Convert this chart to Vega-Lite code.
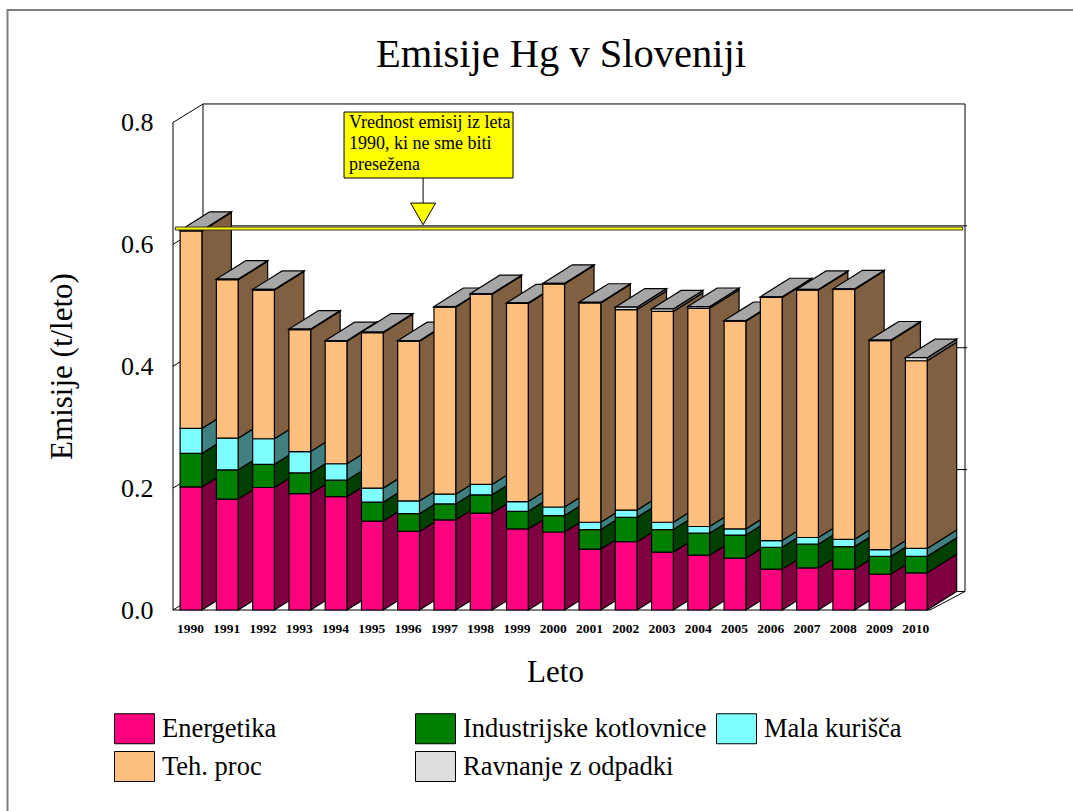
{
"$schema":"https://vega.github.io/schema/vega-lite/v6.json",
"width":1100,"height":830,
"autosize":{"type":"none"},
"padding":{"left":7.5,"top":10,"right":0,"bottom":0},
"background":"white",
"config":{"view":{"stroke":"#808080","strokeWidth":2,"fill":"white"},"font":"Liberation Serif"},
"title":{"text":"Emisije Hg v Sloveniji","font":"Liberation Serif","fontSize":40.5,"fontWeight":"normal","color":"black","anchor":"middle","frame":"group","baseline":"middle","offset":-85,"dx":3.5},
"datasets":{
"emissions":[
{"year":1990,"series":"Energetika","value":0.202},{"year":1990,"series":"Industrijske kotlovnice","value":0.055},{"year":1990,"series":"Mala kurišča","value":0.041},{"year":1990,"series":"Teh. proc","value":0.324},{"year":1990,"series":"Ravnanje z odpadki","value":0.001},
{"year":1991,"series":"Energetika","value":0.182},{"year":1991,"series":"Industrijske kotlovnice","value":0.048},{"year":1991,"series":"Mala kurišča","value":0.052},{"year":1991,"series":"Teh. proc","value":0.260},{"year":1991,"series":"Ravnanje z odpadki","value":0.001},
{"year":1992,"series":"Energetika","value":0.201},{"year":1992,"series":"Industrijske kotlovnice","value":0.038},{"year":1992,"series":"Mala kurišča","value":0.042},{"year":1992,"series":"Teh. proc","value":0.244},{"year":1992,"series":"Ravnanje z odpadki","value":0.001},
{"year":1993,"series":"Energetika","value":0.191},{"year":1993,"series":"Industrijske kotlovnice","value":0.034},{"year":1993,"series":"Mala kurišča","value":0.035},{"year":1993,"series":"Teh. proc","value":0.200},{"year":1993,"series":"Ravnanje z odpadki","value":0.001},
{"year":1994,"series":"Energetika","value":0.186},{"year":1994,"series":"Industrijske kotlovnice","value":0.027},{"year":1994,"series":"Mala kurišča","value":0.027},{"year":1994,"series":"Teh. proc","value":0.201},{"year":1994,"series":"Ravnanje z odpadki","value":0.001},
{"year":1995,"series":"Energetika","value":0.146},{"year":1995,"series":"Industrijske kotlovnice","value":0.031},{"year":1995,"series":"Mala kurišča","value":0.023},{"year":1995,"series":"Teh. proc","value":0.255},{"year":1995,"series":"Ravnanje z odpadki","value":0.001},
{"year":1996,"series":"Energetika","value":0.129},{"year":1996,"series":"Industrijske kotlovnice","value":0.029},{"year":1996,"series":"Mala kurišča","value":0.021},{"year":1996,"series":"Teh. proc","value":0.262},{"year":1996,"series":"Ravnanje z odpadki","value":0.001},
{"year":1997,"series":"Energetika","value":0.148},{"year":1997,"series":"Industrijske kotlovnice","value":0.026},{"year":1997,"series":"Mala kurišča","value":0.016},{"year":1997,"series":"Teh. proc","value":0.307},{"year":1997,"series":"Ravnanje z odpadki","value":0.001},
{"year":1998,"series":"Energetika","value":0.159},{"year":1998,"series":"Industrijske kotlovnice","value":0.030},{"year":1998,"series":"Mala kurišča","value":0.017},{"year":1998,"series":"Teh. proc","value":0.312},{"year":1998,"series":"Ravnanje z odpadki","value":0.001},
{"year":1999,"series":"Energetika","value":0.133},{"year":1999,"series":"Industrijske kotlovnice","value":0.029},{"year":1999,"series":"Mala kurišča","value":0.016},{"year":1999,"series":"Teh. proc","value":0.325},{"year":1999,"series":"Ravnanje z odpadki","value":0.001},
{"year":2000,"series":"Energetika","value":0.128},{"year":2000,"series":"Industrijske kotlovnice","value":0.027},{"year":2000,"series":"Mala kurišča","value":0.014},{"year":2000,"series":"Teh. proc","value":0.366},{"year":2000,"series":"Ravnanje z odpadki","value":0.001},
{"year":2001,"series":"Energetika","value":0.100},{"year":2001,"series":"Industrijske kotlovnice","value":0.032},{"year":2001,"series":"Mala kurišča","value":0.012},{"year":2001,"series":"Teh. proc","value":0.360},{"year":2001,"series":"Ravnanje z odpadki","value":0.001},
{"year":2002,"series":"Energetika","value":0.112},{"year":2002,"series":"Industrijske kotlovnice","value":0.040},{"year":2002,"series":"Mala kurišča","value":0.012},{"year":2002,"series":"Teh. proc","value":0.329},{"year":2002,"series":"Ravnanje z odpadki","value":0.004},
{"year":2003,"series":"Energetika","value":0.095},{"year":2003,"series":"Industrijske kotlovnice","value":0.037},{"year":2003,"series":"Mala kurišča","value":0.012},{"year":2003,"series":"Teh. proc","value":0.346},{"year":2003,"series":"Ravnanje z odpadki","value":0.004},
{"year":2004,"series":"Energetika","value":0.090},{"year":2004,"series":"Industrijske kotlovnice","value":0.036},{"year":2004,"series":"Mala kurišča","value":0.011},{"year":2004,"series":"Teh. proc","value":0.358},{"year":2004,"series":"Ravnanje z odpadki","value":0.003},
{"year":2005,"series":"Energetika","value":0.085},{"year":2005,"series":"Industrijske kotlovnice","value":0.038},{"year":2005,"series":"Mala kurišča","value":0.010},{"year":2005,"series":"Teh. proc","value":0.341},{"year":2005,"series":"Ravnanje z odpadki","value":0.001},
{"year":2006,"series":"Energetika","value":0.067},{"year":2006,"series":"Industrijske kotlovnice","value":0.036},{"year":2006,"series":"Mala kurišča","value":0.011},{"year":2006,"series":"Teh. proc","value":0.399},{"year":2006,"series":"Ravnanje z odpadki","value":0.001},
{"year":2007,"series":"Energetika","value":0.069},{"year":2007,"series":"Industrijske kotlovnice","value":0.039},{"year":2007,"series":"Mala kurišča","value":0.011},{"year":2007,"series":"Teh. proc","value":0.406},{"year":2007,"series":"Ravnanje z odpadki","value":0.001},
{"year":2008,"series":"Energetika","value":0.067},{"year":2008,"series":"Industrijske kotlovnice","value":0.037},{"year":2008,"series":"Mala kurišča","value":0.012},{"year":2008,"series":"Teh. proc","value":0.410},{"year":2008,"series":"Ravnanje z odpadki","value":0.001},
{"year":2009,"series":"Energetika","value":0.059},{"year":2009,"series":"Industrijske kotlovnice","value":0.029},{"year":2009,"series":"Mala kurišča","value":0.011},{"year":2009,"series":"Teh. proc","value":0.343},{"year":2009,"series":"Ravnanje z odpadki","value":0.001},
{"year":2010,"series":"Energetika","value":0.061},{"year":2010,"series":"Industrijske kotlovnice","value":0.027},{"year":2010,"series":"Mala kurišča","value":0.013},{"year":2010,"series":"Teh. proc","value":0.308},{"year":2010,"series":"Ravnanje z odpadki","value":0.005}
],
"frame3d":[
{"id":"A","o":1,"x":1989.504,"y":0},{"id":"A","o":2,"x":1989.504,"y":0.8},{"id":"A","o":3,"x":1990.331,"y":0.8304},{"id":"A","o":4,"x":2011.343,"y":0.8304},{"id":"A","o":5,"x":2011.343,"y":0.0304},{"id":"A","o":6,"x":2010.378,"y":0},{"id":"A","o":7,"x":1989.504,"y":0},
{"id":"B","o":1,"x":1990.331,"y":0.8304},{"id":"B","o":2,"x":1990.331,"y":0.0304},{"id":"B","o":3,"x":1989.504,"y":0},
{"id":"C","o":1,"x":1990.331,"y":0.0304},{"id":"C","o":2,"x":2011.343,"y":0.0304},
{"id":"G2","o":1,"x":1989.504,"y":0.2},{"id":"G2","o":2,"x":1990.331,"y":0.2304},{"id":"G2","o":3,"x":2011.4,"y":0.2304},
{"id":"G4","o":1,"x":1989.504,"y":0.4},{"id":"G4","o":2,"x":1990.331,"y":0.4304},{"id":"G4","o":3,"x":2011.4,"y":0.4304},
{"id":"G6","o":1,"x":1989.504,"y":0.6},{"id":"G6","o":2,"x":1990.331,"y":0.6304},{"id":"G6","o":3,"x":2011.4,"y":0.6304}
]
},
"layer":[
{"data":{"name":"frame3d"},
 "mark":{"type":"line","color":"black","strokeWidth":1,"clip":false},
 "encoding":{
  "x":{"field":"x","type":"quantitative","scale":{"domain":[1990,2010],"range":[183.5,908.8],"zero":false,"nice":false},
    "axis":{"values":[1990,1991,1992,1993,1994,1995,1996,1997,1998,1999,2000,2001,2002,2003,2004,2005,2006,2007,2008,2009,2010],"format":"d","orient":"bottom","offset":-230,"domain":false,"ticks":false,"grid":false,"labelFont":"Liberation Serif","labelFontSize":13.5,"labelFontWeight":"bold","labelColor":"black","labelPadding":11,"labelOffset":-1,"labelOverlap":false,"labelFlush":false,"title":"Leto","titleFont":"Liberation Serif","titleFontSize":31,"titleFontWeight":"normal","titleColor":"black","titleX":547.5,"titleY":62,"titleBaseline":"middle"}},
  "y":{"field":"y","type":"quantitative","scale":{"domain":[0,0.8],"range":[600,112.5],"zero":false,"nice":false},
    "axis":{"values":[0,0.2,0.4,0.6,0.8],"format":".1f","orient":"left","offset":-165.5,"domain":false,"ticks":false,"grid":false,"labelFont":"Liberation Serif","labelFontSize":26,"labelColor":"black","labelPadding":20,"title":"Emisije (t/leto)","titleFont":"Liberation Serif","titleFontSize":31,"titleFontWeight":"normal","titleColor":"black","titleX":-111,"titleY":356,"titleAngle":-90,"titleBaseline":"middle"}},
  "detail":{"field":"id"},
  "order":{"field":"o","type":"quantitative"}
 }},
{"data":{"name":"emissions"},
 "transform":[
  {"calculate":"indexof(['Energetika','Industrijske kotlovnice','Mala kurišča','Teh. proc','Ravnanje z odpadki'],datum.series)","as":"rank"},
  {"stack":"value","groupby":["year"],"sort":[{"field":"rank","order":"ascending"}],"as":["v0","v1"]},
  {"calculate":"[0,1]","as":"d"},{"flatten":["d"]},
  {"calculate":"datum.year+0.3+datum.d*0.813","as":"sx"},
  {"calculate":"datum.v0+datum.d*0.0304","as":"sy0"},
  {"calculate":"datum.v1+datum.d*0.0304","as":"sy1"}
 ],
 "mark":{"type":"area","stroke":"black","strokeWidth":1.2,"clip":false},
 "encoding":{
  "x":{"field":"sx","type":"quantitative"},
  "y":{"field":"sy0","type":"quantitative","stack":null},
  "y2":{"field":"sy1"},
  "fill":{"field":"series","type":"nominal","legend":null,"scale":{"domain":["Ravnanje z odpadki","Teh. proc","Mala kurišča","Industrijske kotlovnice","Energetika"],"range":["#6F6F6F","#806040","#408080","#004000","#7F0040"]}},
  "detail":{"field":"year"}
 }},
{"data":{"name":"emissions"},
 "transform":[
  {"joinaggregate":[{"op":"sum","field":"value","as":"total"}],"groupby":["year"]},
  {"filter":"datum.series==='Ravnanje z odpadki'"},
  {"calculate":"[0,1,2,3]","as":"t"},{"flatten":["t"]},
  {"calculate":"datum.year-0.3+[0,0.6,0.813,1.413][datum.t]","as":"tx"},
  {"calculate":"datum.total+0.0304*[0,0,0.262,1][datum.t]","as":"ty0"},
  {"calculate":"datum.total+0.0304*[0,0.738,1,1][datum.t]","as":"ty1"}
 ],
 "mark":{"type":"area","fill":"#A6A6A6","stroke":"black","strokeWidth":1.2,"clip":false},
 "encoding":{
  "x":{"field":"tx","type":"quantitative"},
  "y":{"field":"ty0","type":"quantitative","stack":null},
  "y2":{"field":"ty1"},
  "detail":{"field":"year"}
 }},
{"data":{"name":"emissions"},
 "transform":[
  {"calculate":"indexof(['Energetika','Industrijske kotlovnice','Mala kurišča','Teh. proc','Ravnanje z odpadki'],datum.series)","as":"rank"},
  {"stack":"value","groupby":["year"],"sort":[{"field":"rank","order":"ascending"}],"as":["v0","v1"]},
  {"calculate":"datum.year-0.3","as":"fx0"},
  {"calculate":"datum.year+0.3","as":"fx1"}
 ],
 "mark":{"type":"rect","stroke":"black","strokeWidth":1.2,"clip":false},
 "encoding":{
  "x":{"field":"fx0","type":"quantitative"},
  "x2":{"field":"fx1"},
  "y":{"field":"v0","type":"quantitative"},
  "y2":{"field":"v1"},
  "color":{"field":"series","type":"nominal","sort":null,"scale":{"domain":["Energetika","Industrijske kotlovnice","Mala kurišča","Teh. proc","Ravnanje z odpadki"],"range":["#FF007F","#007F00","#7FFFFF","#FFBF7F","#DDDDDD"]},
   "legend":{"orient":"none","direction":"horizontal","legendX":106.5,"legendY":698,"columns":3,"gridAlign":"all","title":null,"columnPadding":7,"rowPadding":-1,"symbolType":"M-1,-0.75H1V0.75H-1Z","symbolSize":1600,"symbolStrokeColor":"black","symbolStrokeWidth":1,"labelFont":"Liberation Serif","labelFontSize":26.5,"labelColor":"black","labelOffset":7,"labelLimit":400}}
 }},
{"data":{"values":[{"a":1989.567,"b":2011.28,"lo":0.6236,"hi":0.6285}]},
 "mark":{"type":"rect","fill":"#FFFF00","stroke":"#333333","strokeWidth":1,"clip":false},
 "encoding":{"x":{"field":"a","type":"quantitative"},"x2":{"field":"b"},"y":{"field":"lo","type":"quantitative"},"y2":{"field":"hi"}}},
{"data":{"values":[{"a":1994.22,"b":1998.88,"lo":0.7089,"hi":0.8172}]},
 "mark":{"type":"rect","fill":"#FFFF00","stroke":"black","strokeWidth":1,"clip":false},
 "encoding":{"x":{"field":"a","type":"quantitative"},"x2":{"field":"b"},"y":{"field":"lo","type":"quantitative"},"y2":{"field":"hi"}}},
{"data":{"values":[{"a":1996.4,"lo":0.668,"hi":0.7089}]},
 "mark":{"type":"rule","color":"black","strokeWidth":1,"clip":false},
 "encoding":{"x":{"field":"a","type":"quantitative"},"y":{"field":"lo","type":"quantitative"},"y2":{"field":"hi"}}},
{"data":{"values":[{"a":1996.4,"v":0.65}]},
 "mark":{"type":"point","shape":"triangle-down","size":625,"filled":true,"fill":"#FFFF00","stroke":"black","strokeWidth":1,"opacity":1,"clip":false},
 "encoding":{"x":{"field":"a","type":"quantitative"},"y":{"field":"v","type":"quantitative"}}},
{"data":{"values":[
  {"a":1994.36,"v":0.7995,"label":"Vrednost emisij iz leta"},
  {"a":1994.36,"v":0.7645,"label":"1990, ki ne sme biti"},
  {"a":1994.36,"v":0.7295,"label":"presežena"}]},
 "mark":{"type":"text","align":"left","baseline":"middle","font":"Liberation Serif","fontSize":18,"color":"black","clip":false},
 "encoding":{"x":{"field":"a","type":"quantitative"},"y":{"field":"v","type":"quantitative"},"text":{"field":"label"}}}
]
}
